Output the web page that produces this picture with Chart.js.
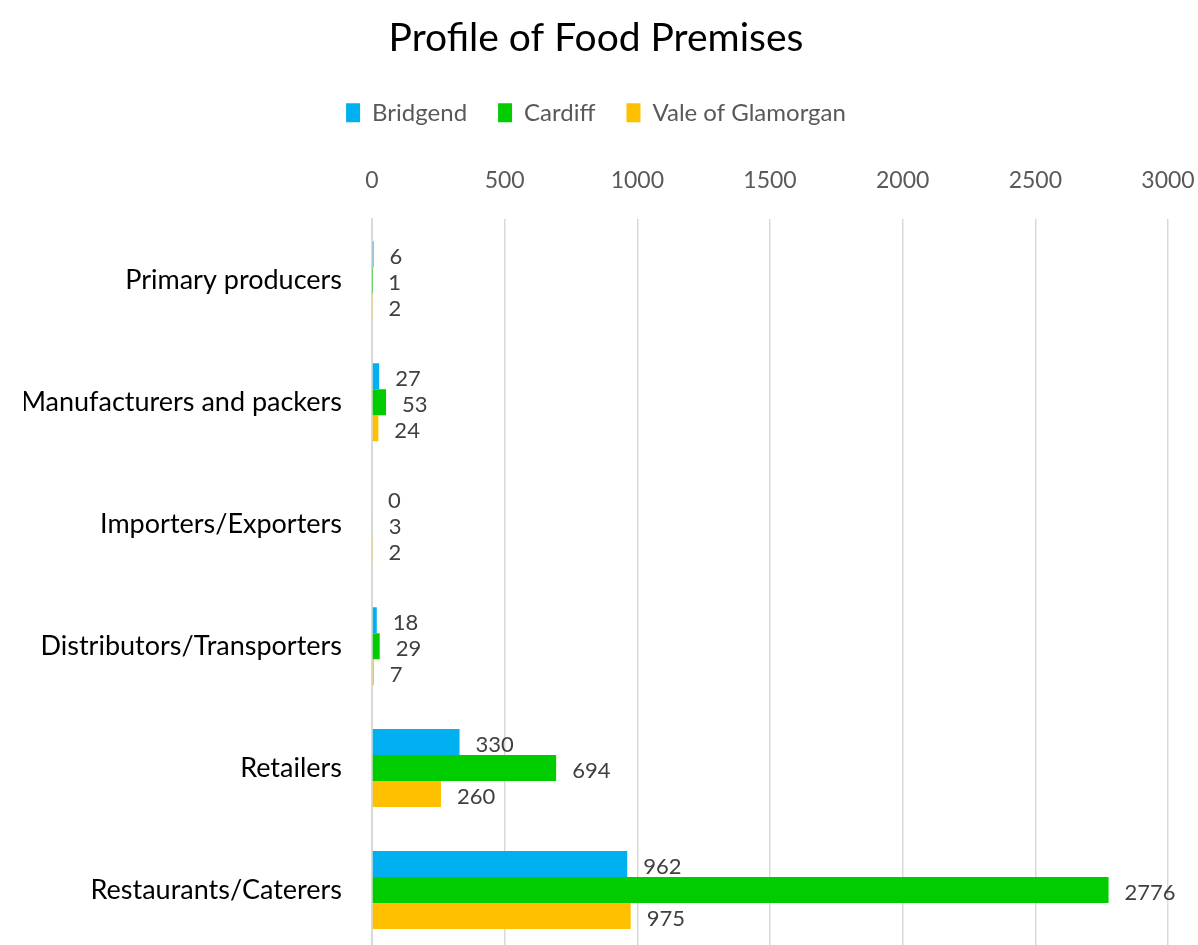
<!DOCTYPE html>
<html>
<head>
<meta charset="utf-8">
<script src="https://cdn.jsdelivr.net/npm/chart.js@4"></script>
<style>
    html, body { margin: 0; padding: 0; background: #fff; overflow: hidden; }
</style>
</head>
<body>
<canvas id="premisesChart" width="1198" height="951"></canvas>
<script>
const categories = ["Primary producers", "Manufacturers and packers", "Importers/Exporters",
    "Distributors/Transporters", "Retailers", "Restaurants/Caterers"];
const bridgend = [6, 27, 0, 18, 330, 962];
const cardiff = [1, 53, 3, 29, 694, 2776];
const valeOfGlamorgan = [2, 24, 2, 7, 260, 975];
const xTicks = [0, 500, 1000, 1500, 2000, 2500, 3000];

const FONT = "Lato, 'Open Sans', sans-serif";

// draws the number just past the end of each bar
const barValueLabels = {
    id: "barValueLabels",
    afterDatasetsDraw: function(chart) {
        let ctx = chart.ctx;
        ctx.save();
        ctx.font = "22px " + FONT;
        ctx.fillStyle = "#404040";
        ctx.textAlign = "left";
        ctx.textBaseline = "middle";
        chart.data.datasets.forEach(function(ds, i) {
            let meta = chart.getDatasetMeta(i);
            meta.data.forEach(function(bar, j) {
                ctx.fillText(String(ds.data[j]), bar.x + 16, bar.y + 3);
            });
        });
        ctx.restore();
    }
};

let ctx = document.getElementById("premisesChart").getContext("2d");

let data = {
    labels: categories,
    datasets: [{
        label: "Bridgend",
        data: bridgend,
        backgroundColor: "#00b0f0",
    },
    {
        label: "Cardiff",
        data: cardiff,
        backgroundColor: "#00cc00",
    },
    {
        label: "Vale of Glamorgan",
        data: valeOfGlamorgan,
        backgroundColor: "#ffc000",
    }]
};

let options = {
    indexAxis: "y",
    responsive: false,
    animation: false,
    layout: {
        padding: { left: 24, right: 30, top: 0, bottom: 0 }
    },
    datasets: {
        bar: {
            categoryPercentage: 0.64,
            barPercentage: 1.0,
        }
    },
    plugins: {
        title: {
            display: true,
            text: "Profile of Food Premises",
            color: "#000000",
            font: { family: FONT, size: 39, weight: "normal" },
            padding: { top: 15, bottom: 8 }
        },
        legend: {
            display: true,
            position: "top",
            labels: {
                color: "#595959",
                font: { family: FONT, size: 24 },
                boxWidth: 14,
                boxHeight: 19,
                padding: 31,
            }
        },
        tooltip: { enabled: false }
    },
    scales: {
        x: {
            position: "top",
            min: 0,
            max: 3000,
            afterBuildTicks: function(scale) {
                scale.ticks = xTicks.map(v => ({ value: v }));
            },
            afterFit: function(scale) {
                scale.height += 7;
                // the layout padding already leaves room for the end labels
                scale.paddingLeft = 0;
                scale.paddingRight = 0;
            },
            grid: {
                color: "#d9d9d9",
                lineWidth: 1.5,
                drawTicks: false,
            },
            border: { display: false },
            ticks: {
                color: "#595959",
                font: { family: FONT, size: 23 },
                padding: 25,
                callback: function(value) { return String(value); }
            }
        },
        y: {
            afterFit: function(scale) {
                scale.width = 348;
                scale.paddingTop = 0;
                scale.paddingBottom = 0;
            },
            grid: { display: false },
            border: { display: true, color: "#d9d9d9", width: 2 },
            ticks: {
                color: "#000000",
                font: { family: FONT, size: 27 },
                padding: 22,
            }
        }
    }
};

let config = ({
    type: "bar",
    data: data,
    options: options,
    plugins: [barValueLabels]
});

let premisesChart = new Chart(ctx, config);
</script>
</body>
</html>
